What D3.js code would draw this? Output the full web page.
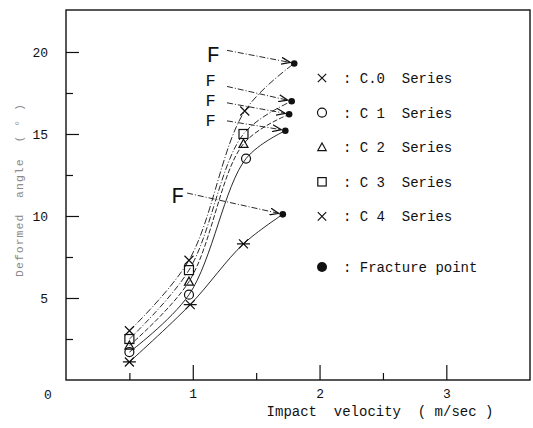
<!DOCTYPE html>
<html lang="en">
<head>
<meta charset="UTF-8" />
<title>Deformed angle vs impact velocity</title>
<script src="https://d3js.org/d3.v7.min.js"></script>
<style>
  body { margin: 0; background: #fff; }
  svg { display: block; }
  text { font-family: "Liberation Mono", "DejaVu Sans Mono", monospace; fill: #111; }
</style>
</head>
<body>
<div id="chart"></div>
<script>
// Series: impact velocity (m/sec) and deformed angle (deg)
const seriesNames = ["C.0", "C 1", "C 2", "C 3", "C 4"];
const velocities = [
  [0.50, 0.97, 1.41],   // C.0
  [0.50, 0.97, 1.42],   // C 1
  [0.50, 0.97, 1.40],   // C 2
  [0.50, 0.97, 1.40],   // C 3
  [0.50, 0.98, 1.40]    // C 4
];
const angles = [
  [3.0, 7.3, 16.4],
  [1.7, 5.2, 13.5],
  [2.1, 6.0, 14.4],
  [2.5, 6.7, 15.0],
  [1.1, 4.6, 8.3]
];
// fracture points (velocity, angle) per series
const fractureV = [1.80, 1.73, 1.76, 1.78, 1.71];
const fractureA = [19.3, 15.2, 16.2, 17.0, 10.1];
const symbols = ["x", "circle", "triangle", "square", "asterisk"];
const dashes = ["7,2,1,2", null, "5,2", "6,2,1,2", null];

// "F" labels (data units); the three middle ones are stacked tightly
const fLabelV = [1.11, 1.10, 1.10, 1.10, 0.83];
const fLabelA = [19.4, 17.9, 16.7, 15.5, 10.8];
const fLabelSize = [22, 17, 17, 17, 22];
// arrows: start point (data units) -> series index of the fracture point
const fArrowV = [1.27, 1.27, 1.27, 1.27, 0.955];
const fArrowA = [20.1, 17.9, 16.9, 15.8, 11.4];
const fTarget = [0, 3, 2, 1, 4];

const xMajor = [1, 2, 3], xMinor = [0.5, 1.5, 2.5];
const yMajor = [5, 10, 15, 20], yMinor = [2.5, 7.5, 12.5, 17.5];

const W = 533, H = 428;
const frame = { left: 66, top: 10, right: 530, bottom: 380 };

const x = d3.scaleLinear().domain([0, 3.66]).range([frame.left, frame.right]);
const y = d3.scaleLinear().domain([0, 22.56]).range([frame.bottom, frame.top]);

const svg = d3.select("#chart").append("svg")
  .attr("width", W).attr("height", H);

svg.append("defs").append("marker")
  .attr("id", "arrow")
  .attr("viewBox", "0 0 10 8")
  .attr("refX", 9).attr("refY", 4)
  .attr("markerWidth", 10).attr("markerHeight", 8)
  .attr("markerUnits", "userSpaceOnUse")
  .attr("orient", "auto")
  .append("path")
  .attr("d", "M0,0.5 L9,4 L0,7.5")
  .attr("fill", "none").attr("stroke", "#111").attr("stroke-width", 1.3);

// axes (ticks point inward)
svg.append("g").attr("transform", `translate(0,${frame.bottom})`)
  .call(d3.axisBottom(x).tickValues(xMajor).tickSizeInner(-15).tickSizeOuter(0)
    .tickPadding(9).tickFormat(d3.format("d")));
svg.append("g").attr("transform", `translate(0,${frame.bottom})`)
  .call(d3.axisBottom(x).tickValues(xMinor).tickSizeInner(-7).tickSizeOuter(0).tickFormat(""));
svg.append("g").attr("transform", `translate(${frame.left},0)`)
  .call(d3.axisLeft(y).tickValues(yMajor).tickSizeInner(-13).tickSizeOuter(0)
    .tickPadding(18).tickFormat(d3.format("d")));
svg.append("g").attr("transform", `translate(${frame.left},0)`)
  .call(d3.axisLeft(y).tickValues(yMinor).tickSizeInner(-7).tickSizeOuter(0).tickFormat(""));
svg.selectAll(".domain").remove();
svg.selectAll(".tick line").attr("stroke", "#111").attr("stroke-width", 1.2);
svg.selectAll(".tick text").attr("font-size", 13).attr("fill", "#111")
  .attr("font-family", "'Liberation Mono', monospace");

svg.append("text").attr("x", 48).attr("y", 399).attr("text-anchor", "middle")
  .attr("font-size", 13).text("0");

svg.append("rect")
  .attr("x", frame.left).attr("y", frame.top)
  .attr("width", frame.right - frame.left).attr("height", frame.bottom - frame.top)
  .attr("fill", "none").attr("stroke", "#111").attr("stroke-width", 1.4);

// axis titles
svg.append("text")
  .attr("x", 380).attr("y", 416).attr("text-anchor", "middle")
  .attr("font-size", 14).style("white-space", "pre")
  .text("Impact  velocity  ( m/sec )");
svg.append("text")
  .attr("transform", "translate(23,190) rotate(-90)")
  .attr("text-anchor", "middle").attr("font-size", 11.5)
  .attr("letter-spacing", 1)
  .style("fill", "#8a8a8a").style("white-space", "pre")
  .text("Deformed  angle  ( ° )");

// curves
const line = d3.line().x(d => x(d[0])).y(d => y(d[1])).curve(d3.curveCatmullRom.alpha(0.5));
seriesNames.forEach((name, i) => {
  const pts = velocities[i].map((v, j) => [v, angles[i][j]]);
  pts.push([fractureV[i], fractureA[i]]);
  svg.append("path").datum(pts)
    .attr("d", line)
    .attr("fill", "none").attr("stroke", "#111").attr("stroke-width", 0.9)
    .attr("stroke-dasharray", dashes[i]);
});

function drawSymbol(g, kind, cx, cy, s) {
  const st = { stroke: "#111", "stroke-width": 1.2, fill: "none" };
  const apply = sel => { Object.entries(st).forEach(([k, v]) => sel.attr(k, v)); return sel; };
  if (kind === "x" || kind === "asterisk") {
    apply(g.append("path").attr("d",
      `M${cx - s},${cy - s}L${cx + s},${cy + s}M${cx - s},${cy + s}L${cx + s},${cy - s}` +
      (kind === "asterisk" ? `M${cx - s - 2},${cy}L${cx + s + 2},${cy}` : "")));
  } else if (kind === "circle") {
    apply(g.append("circle").attr("cx", cx).attr("cy", cy).attr("r", s));
  } else if (kind === "triangle") {
    apply(g.append("path").attr("d", `M${cx},${cy - s}L${cx + s},${cy + s * 0.8}L${cx - s},${cy + s * 0.8}Z`));
  } else if (kind === "square") {
    apply(g.append("rect").attr("x", cx - s).attr("y", cy - s).attr("width", 2 * s).attr("height", 2 * s));
  } else if (kind === "dot") {
    g.append("circle").attr("cx", cx).attr("cy", cy).attr("r", s).attr("fill", "#111");
  }
}

const marks = svg.append("g");
seriesNames.forEach((name, i) => {
  velocities[i].forEach((v, j) => {
    drawSymbol(marks, symbols[i], x(v), y(angles[i][j]), 4.5);
  });
  drawSymbol(marks, "dot", x(fractureV[i]), y(fractureA[i]), 3.3);
});

// F annotations with dash-dot arrows
fLabelV.forEach((v, k) => {
  svg.append("text")
    .attr("x", x(v)).attr("y", y(fLabelA[k]))
    .attr("font-family", "'Liberation Sans', sans-serif")
    .attr("font-size", fLabelSize[k]).text("F");
});
fTarget.forEach((t, k) => {
  const x1 = x(fArrowV[k]), y1 = y(fArrowA[k]);
  const x2 = x(fractureV[t]) - 4, y2 = y(fractureA[t]) - 1;
  svg.append("line")
    .attr("x1", x1).attr("y1", y1).attr("x2", x2).attr("y2", y2)
    .attr("stroke", "#111").attr("stroke-width", 0.9)
    .attr("stroke-dasharray", "6,2,1,2")
    .attr("marker-end", "url(#arrow)");
});

// legend
const legendSym = ["x", "circle", "triangle", "square", "x"];
const lg = svg.append("g");
seriesNames.forEach((name, r) => {
  const cy = 78 + r * 34.6;
  drawSymbol(lg, legendSym[r], 322, cy, r === 1 ? 4.5 : 4.2);
  lg.append("text").attr("x", 343).attr("y", cy + 5).attr("font-size", 14)
    .style("white-space", "pre").text(": " + name + "  Series");
});
drawSymbol(lg, "dot", 322, 267, 5);
lg.append("text").attr("x", 343).attr("y", 272).attr("font-size", 14)
  .style("white-space", "pre").text(": Fracture point");
</script>
</body>
</html>
